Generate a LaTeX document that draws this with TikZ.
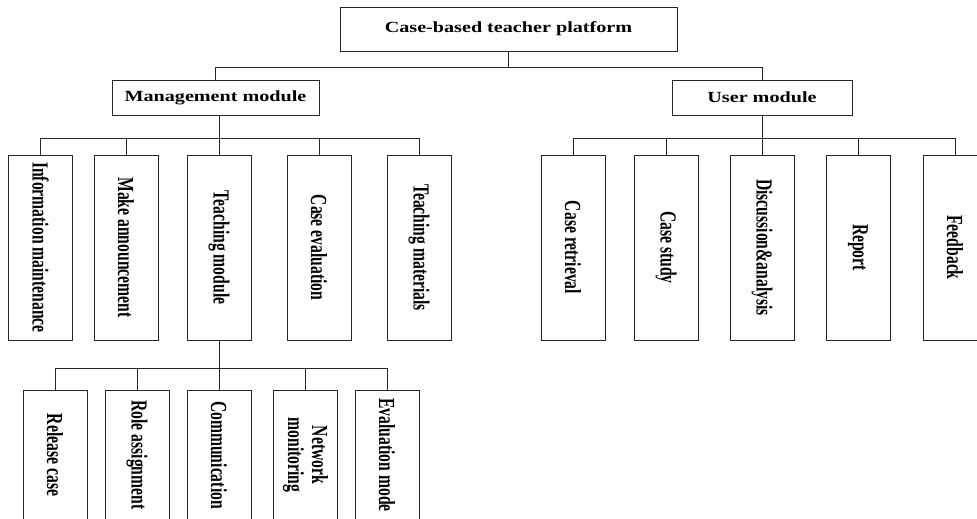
\documentclass[tikz,border=0pt]{standalone}
\usepackage{fontspec}
\setmainfont{Liberation Serif}
\newfontfamily\hfont[FakeStretch=1.3]{Liberation Serif}
\newfontfamily\vfont[FakeStretch=0.68]{Liberation Serif}
\begin{document}
\begin{tikzpicture}[x=1pt,y=-1pt,
  line width=0.9pt, draw=black!85,
  hbox/.style={draw=black!85, line width=0.9pt, inner sep=0pt, minimum height=35pt,
    font=\hfont\bfseries\fontsize{15.5}{18}\selectfont},
  vbox/.style={draw=black!85, line width=0.9pt, inner sep=0pt, minimum width=64pt,
    minimum height=185pt, font=\vfont\bfseries\fontsize{23}{24}\selectfont},
  sbox/.style={vbox, minimum height=130pt},
  wire/.style={draw=black!85, line width=0.9pt}]
\clip (0,0) rectangle (977,519);
\fill[white] (0,0) rectangle (977,519);
% top level
\node[hbox, minimum width=337pt, minimum height=44pt] (top) at (508.5,29) {Case-based teacher platform};
\node[hbox, minimum width=207pt] (mgmt) at (215.5,97.5) {Management module};
\node[hbox, minimum width=180pt] (user) at (762,97.5) {User module};
% management children
\node[vbox] (m1) at (40.5,247.5) {\rotatebox{-90}{Information maintenance}};
\node[vbox] (m2) at (126,247.5) {\rotatebox{-90}{Make announcement}};
\node[vbox] (m3) at (219,247.5) {\rotatebox{-90}{Teaching module}};
\node[vbox] (m4) at (319,247.5) {\rotatebox{-90}{Case evaluation}};
\node[vbox] (m5) at (419,247.5) {\rotatebox{-90}{Teaching materials}};
% user children
\node[vbox] (u1) at (573,247.5) {\rotatebox{-90}{Case retrieval}};
\node[vbox] (u2) at (666,247.5) {\rotatebox{-90}{Case study}};
\node[vbox] (u3) at (762,247.5) {\rotatebox{-90}{Discussion\&analysis}};
\node[vbox] (u4) at (858,247.5) {\rotatebox{-90}{Report}};
\node[vbox] (u5) at (955,247.5) {\rotatebox{-90}{Feedback}};
% teaching children
\node[sbox] (t1) at (55,455) {\rotatebox{-90}{Release case}};
\node[sbox] (t2) at (137,455) {\rotatebox{-90}{Role assignment}};
\node[sbox] (t3) at (219,455) {\rotatebox{-90}{Communication}};
\node[sbox] (t4) at (305,455) {\rotatebox{-90}{\begin{tabular}{@{}c@{}}Network\\monitoring\end{tabular}}};
\node[sbox] (t5) at (387,455) {\rotatebox{-90}{Evaluation mode}};
% bar coordinates
\coordinate (topbar) at (508.5,67);
\coordinate (mbar) at (219,138);
\coordinate (ubar) at (762,138);
\coordinate (tbar) at (219,368);
% connectors
\draw[wire] (top.south) -- (topbar);
\draw[wire] (topbar) -| (mgmt.north);
\draw[wire] (topbar) -| (user.north);
\draw[wire] (mgmt.south -| mbar) -- (m3.north);
\foreach \c in {m1,m2,m4,m5} \draw[wire] (\c.north) |- (mbar);
\draw[wire] (user.south) -- (u3.north);
\foreach \c in {u1,u2,u4,u5} \draw[wire] (\c.north) |- (ubar);
\draw[wire] (m3.south) -- (t3.north);
\foreach \c in {t1,t2,t4,t5} \draw[wire] (\c.north) |- (tbar);
\end{tikzpicture}
\end{document}
